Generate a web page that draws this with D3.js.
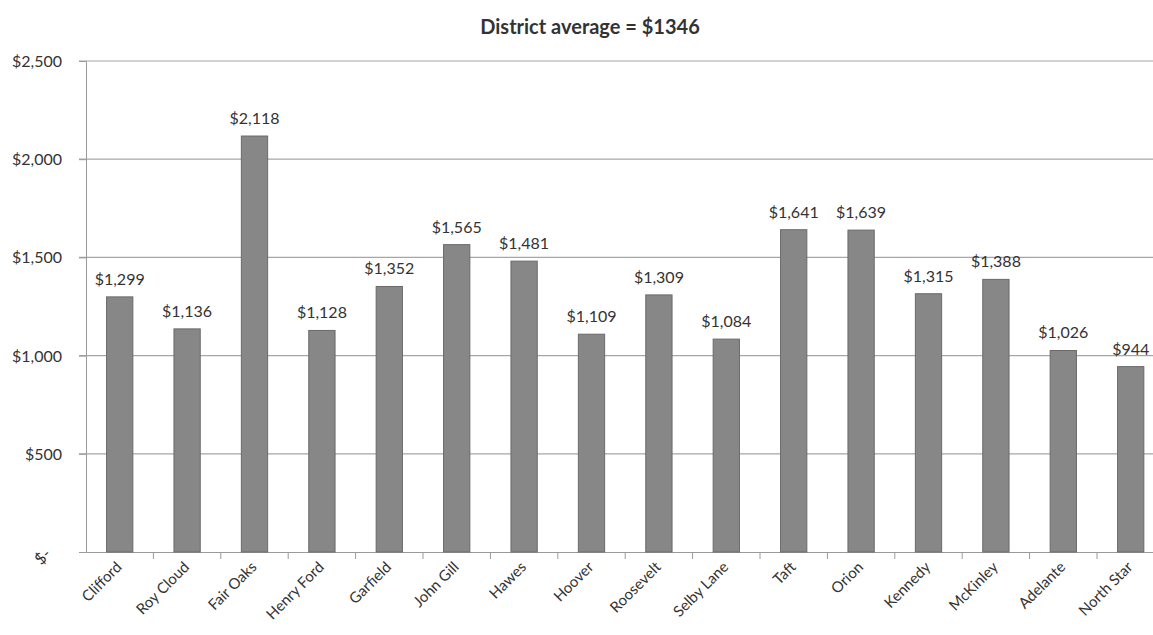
<!DOCTYPE html>
<html><head><meta charset="utf-8">
<script src="https://cdn.jsdelivr.net/npm/d3@7"></script>
<style>body{margin:0;background:#fff;}svg{display:block;}</style>
</head><body>
<script>
const categories = ["Clifford","Roy Cloud","Fair Oaks","Henry Ford","Garfield","John Gill","Hawes","Hoover","Roosevelt","Selby Lane","Taft","Orion","Kennedy","McKinley","Adelante","North Star"];
const values = [1299,1136,2118,1128,1352,1565,1481,1109,1309,1084,1641,1639,1315,1388,1026,944];
const yTicks = [0,500,1000,1500,2000,2500];
const title = "District average = $1346";

const W = 1153, H = 635;
const svg = d3.select("body").append("svg").attr("width", W).attr("height", H);
const font = "Lato, 'Open Sans', sans-serif";

const x = d3.scaleBand().domain(categories).range([86, 86 + 16 * 67.4]).paddingInner(0.61).paddingOuter(0.305);
const y = d3.scaleLinear().domain([0, 2500]).range([552, 61]);

// gridlines
svg.append("g").selectAll("line").data(yTicks.filter(d => d > 0)).join("line")
  .attr("x1", 79).attr("x2", W).attr("y1", d => y(d)).attr("y2", d => y(d))
  .attr("stroke", "#a6a6a6").attr("stroke-width", 1.2);

// y axis
const yAxis = d3.axisLeft(y).tickValues(yTicks).tickSize(7).tickFormat(() => "");
const gy = svg.append("g").attr("transform", "translate(86,0)").call(yAxis);
gy.select(".domain").attr("stroke", "#9a9a9a");
gy.selectAll(".tick line").attr("stroke", "#9a9a9a");

const fmt = d => d === 0 ? "$-" : "$" + d3.format(",")(d);
svg.append("g").selectAll("text").data(yTicks).join("text")
  .attr("font-family", font).attr("font-size", 16).attr("fill", "#333")
  .attr("text-anchor", "end")
  .attr("transform", d => d === 0 ? `translate(52,${y(d) + 3}) rotate(-45)` : `translate(62,${y(d) + 6})`)
  .text(fmt);

// x axis
const xAxis = d3.axisBottom(x).tickSize(0).tickFormat(() => "");
const gx = svg.append("g").attr("transform", `translate(0,${y(0)})`).call(xAxis);
gx.select(".domain").attr("stroke", "#9a9a9a");
svg.append("g").selectAll("line").data(categories.slice(1)).join("line")
  .attr("x1", d => x(d) - x.step() * x.paddingInner() / 2)
  .attr("x2", d => x(d) - x.step() * x.paddingInner() / 2)
  .attr("y1", y(0)).attr("y2", y(0) + 7).attr("stroke", "#9a9a9a");

// bars
svg.append("g").selectAll("rect").data(values).join("rect")
  .attr("x", (d, i) => x(categories[i]))
  .attr("width", x.bandwidth())
  .attr("y", d => y(d))
  .attr("height", d => y(0) - y(d))
  .attr("fill", "#878787").attr("stroke", "#6a6a6a").attr("stroke-width", 1);

// value labels
svg.append("g").selectAll("text").data(values).join("text")
  .attr("x", (d, i) => x(categories[i]) + x.bandwidth() / 2)
  .attr("y", d => y(d) - 12)
  .attr("text-anchor", "middle")
  .attr("font-family", font).attr("font-size", 16).attr("fill", "#333")
  .text(d => "$" + d3.format(",")(d));

// category labels
svg.append("g").selectAll("text").data(categories).join("text")
  .attr("font-family", font).attr("font-size", 15).attr("fill", "#333")
  .attr("text-anchor", "end")
  .attr("transform", d => `translate(${x(d) + x.bandwidth() / 2 + 3},${y(0) + 16}) rotate(-45)`)
  .text(d => d);

// title
svg.append("text").attr("x", 590).attr("y", 34).attr("text-anchor", "middle")
  .attr("font-family", font).attr("font-weight", "bold").attr("font-size", 20).attr("fill", "#333")
  .text(title);
</script>
</body></html>
